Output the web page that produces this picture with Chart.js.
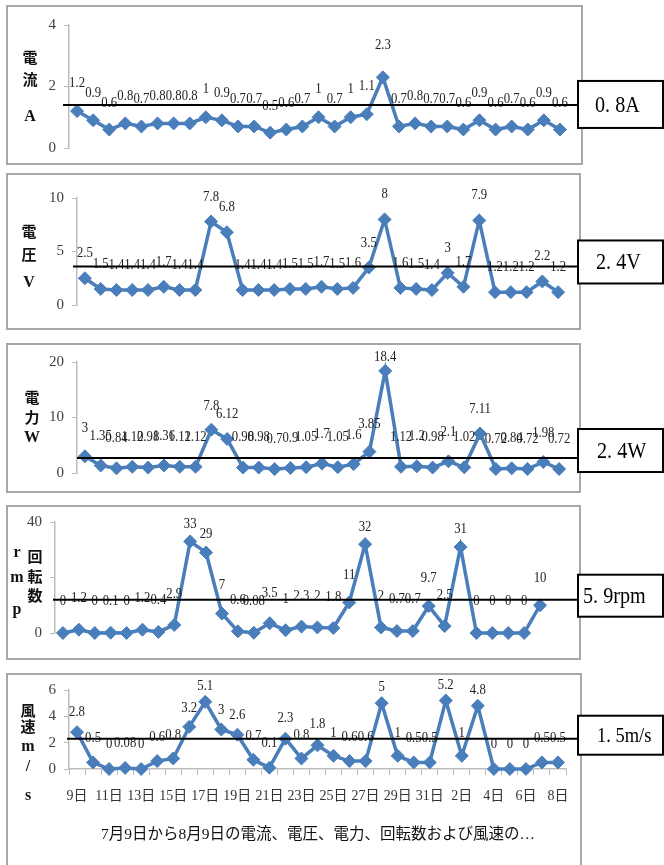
<!DOCTYPE html>
<html>
<head>
<meta charset="utf-8">
<script src="https://cdn.jsdelivr.net/npm/chart.js@4.4.1/dist/chart.umd.min.js"></script>
<style>
    body { margin: 0; background: #fff; width: 664px; height: 865px; overflow: hidden; position: relative; }
    .panel { position: absolute; border: 2px solid #a8a8a8; box-sizing: border-box; background: #fff; }
    canvas { position: absolute; left: 0; }
</style>
</head>
<body>
<script>
// 7/9 - 8/8, one point per day
const days = ['9日', '10日', '11日', '12日', '13日', '14日', '15日', '16日', '17日', '18日', '19日', '20日',
    '21日', '22日', '23日', '24日', '25日', '26日', '27日', '28日', '29日', '30日', '31日',
    '1日', '2日', '3日', '4日', '5日', '6日', '7日', '8日'];

const currentA = [1.2, 0.9, 0.6, 0.8, 0.7, 0.8, 0.8, 0.8, 1, 0.9, 0.7, 0.7, 0.5, 0.6, 0.7, 1,
    0.7, 1, 1.1, 2.3, 0.7, 0.8, 0.7, 0.7, 0.6, 0.9, 0.6, 0.7, 0.6, 0.9, 0.6];
const voltageV = [2.5, 1.5, 1.4, 1.4, 1.4, 1.7, 1.4, 1.4, 7.8, 6.8, 1.4, 1.4, 1.4, 1.5, 1.5, 1.7,
    1.5, 1.6, 3.5, 8, 1.6, 1.5, 1.4, 3, 1.7, 7.9, 1.2, 1.2, 1.2, 2.2, 1.2];
const powerW = [3, 1.35, 0.84, 1.12, 0.98, 1.36, 1.12, 1.12, 7.8, 6.12, 0.98, 0.98, 0.7, 0.9, 1.05, 1.7,
    1.05, 1.6, 3.85, 18.4, 1.12, 1.2, 0.98, 2.1, 1.02, 7.11, 0.72, 0.84, 0.72, 1.98, 0.72];
const rpm = [0, 1.2, 0, 0.1, 0, 1.2, 0.4, 2.9, 33, 29, 7, 0.6, 0.08, 3.5, 1, 2.3,
    2, 1.8, 11, 32, 2, 0.7, 0.7, 9.7, 2.5, 31, 0, 0, 0, 0, 10];
const windMs = [2.8, 0.5, 0, 0.08, 0, 0.6, 0.8, 3.2, 5.1, 3, 2.6, 0.7, 0.1, 2.3, 0.8, 1.8,
    1, 0.6, 0.6, 5, 1, 0.5, 0.5, 5.2, 1, 4.8, 0, 0, 0, 0.5, 0.5];

// hand-drawn average lines (level on each axis) and their boxed captions
const markLevels = [1.4, 3.6, 2.7, 12, 2.3];
const markTexts = ['0. 8A', '2. 4V', '2. 4W', '5. 9rpm', '1. 5m/s'];
const caption = '7月9日から8月9日の電流、電圧、電力、回転数および風速の…';

const SERIF = '"Liberation Serif", "Noto Sans CJK JP", serif';
const CJK = '"Noto Sans CJK JP", sans-serif';
const BLUE = '#4a7ebb';
const AXIS = '#bcbcbc';

// layout per panel: frame, plot area (page px), label offsets, axis title glyphs
const panels = [
    { values: currentA, max: 4, step: 2, frame: [6, 5, 577, 160], area: [69, 568, 25, 152],
      lab: [21, -12], markFrom: 63, box: [24, 47], textX: 595, fs: 24,
      title: [['電', 30, 57], ['流', 30, 79], ['A', 30, 117]] },
    { values: voltageV, max: 10, step: 5, frame: [6, 173, 575, 157], area: [77, 566, 198, 305],
      lab: [21, 0], markFrom: 73, box: [26, 43], textX: 596, fs: 24,
      title: [['電', 29, 231], ['圧', 29, 254], ['V', 29, 283]] },
    { values: powerW, max: 20, step: 10, frame: [6, 343, 575, 150], area: [77, 567, 362, 473],
      lab: [27, 19], markFrom: 77, box: [29, 43], textX: 597, fs: 24,
      title: [['電', 32, 397], ['力', 32, 417], ['W', 32, 438]] },
    { values: rpm, max: 40, step: 20, hide: [20], frame: [6, 505, 575, 155], area: [55, 548, 520, 633],
      lab: [28, 18], markFrom: 53, box: [25, 42], textX: 583, fs: 24,
      title: [['r', 17, 553], ['回', 35, 556], ['m', 17, 578], ['転', 35, 576], ['数', 35, 595], ['p', 17, 610]] },
    { values: windMs, max: 6, step: 2, frame: [6, 673, 576, 200], area: [69, 566, 689, 769],
      lab: [21, 11], markFrom: 67, box: [23, 39], textX: 597, fs: 22, xAxis: true,
      title: [['風', 28, 710], ['速', 28, 726], ['m', 28, 747], ['/', 28, 767], ['s', 28, 796]] }
];

function squeezeText(ctx, text, x, y, sx, align) {
    ctx.save();
    ctx.translate(x, y);
    ctx.scale(sx, 1);
    ctx.textAlign = align || 'center';
    ctx.fillText(text, 0, 0);
    ctx.restore();
}

function makeDecor(p, idx) {
    return {
        id: 'decor' + idx,
        afterDatasetsDraw(chart) {
            const ctx = chart.ctx;
            const ys = chart.scales.y;
            const top = p.frame[1];
            const meta = chart.getDatasetMeta(0);

            // value labels above each point
            ctx.save();
            ctx.fillStyle = '#222';
            ctx.font = '15px ' + SERIF;
            ctx.textBaseline = 'alphabetic';
            meta.data.forEach((pt, i) => {
                const v = p.values[i];
                const off = p.lab[0] - p.lab[1] * (v / p.max);
                squeezeText(ctx, String(v), pt.x, pt.y - off, 0.85);
            });
            ctx.restore();

            // average line and box
            const y = ys.getPixelForValue(markLevels[idx]);
            const bx = 578, bw = 85;
            const by = y - p.box[0], bh = p.box[1];
            ctx.save();
            ctx.strokeStyle = '#000';
            ctx.lineWidth = 2;
            ctx.beginPath();
            ctx.moveTo(p.markFrom, y);
            ctx.lineTo(bx, y);
            ctx.stroke();
            ctx.fillStyle = '#fff';
            ctx.fillRect(bx, by, bw, bh);
            ctx.strokeRect(bx, by, bw, bh);
            ctx.fillStyle = '#000';
            ctx.font = p.fs + 'px ' + SERIF;
            ctx.textBaseline = 'middle';
            squeezeText(ctx, markTexts[idx], p.textX, by + bh / 2 + 1, 0.84, 'left');
            ctx.restore();

            // stacked axis title
            ctx.save();
            ctx.fillStyle = '#111';
            ctx.textBaseline = 'middle';
            ctx.textAlign = 'center';
            p.title.forEach(([ch, x, yy]) => {
                ctx.font = /[a-z/]/i.test(ch) ? 'bold 16px ' + SERIF : 'bold 15px ' + CJK;
                ctx.fillText(ch, x, yy - top);
            });
            ctx.restore();

            if (p.xAxis) {
                ctx.save();
                ctx.fillStyle = '#111';
                ctx.font = '15.5px ' + SERIF;
                ctx.textAlign = 'center';
                ctx.textBaseline = 'middle';
                ctx.fillText(caption, 318, 835 - top);
                ctx.restore();
            }
        }
    };
}

panels.forEach((p, idx) => {
    const frame = document.createElement('div');
    frame.className = 'panel';
    frame.style.left = p.frame[0] + 'px';
    frame.style.top = p.frame[1] + 'px';
    frame.style.width = p.frame[2] + 'px';
    frame.style.height = p.frame[3] + 'px';
    document.body.appendChild(frame);

    const top = p.frame[1];
    const height = p.xAxis ? 865 - top : p.frame[3];
    const canvas = document.createElement('canvas');
    canvas.width = 664;
    canvas.height = height;
    canvas.style.top = top + 'px';
    document.body.appendChild(canvas);

    const xAxisH = 40;
    const padBottom = p.xAxis ? top + height - p.area[3] - xAxisH : top + height - p.area[3];

    new Chart(canvas, {
        type: 'line',
        data: {
            labels: days,
            datasets: [{
                data: p.values,
                borderColor: BLUE,
                backgroundColor: BLUE,
                borderWidth: 3.5,
                tension: 0,
                pointStyle: 'rectRot',
                pointRadius: 6.5,
                pointHoverRadius: 6.5,
                pointBorderWidth: 1,
                clip: false
            }]
        },
        options: {
            responsive: false,
            animation: false,
            events: [],
            layout: {
                autoPadding: false,
                padding: { left: 0, right: 664 - p.area[1], top: p.area[2] - top, bottom: padBottom }
            },
            plugins: { legend: { display: false }, tooltip: { enabled: false } },
            scales: {
                x: {
                    display: !!p.xAxis,
                    offset: true,
                    grid: { offset: true, drawOnChartArea: false, drawTicks: true, tickLength: 6, color: AXIS },
                    border: { display: true, color: AXIS, width: 1.5 },
                    ticks: {
                        autoSkip: false, maxRotation: 0, padding: 13, color: '#333',
                        font: { family: SERIF, size: 14 },
                        callback: (v, i) => (i % 2 === 0 ? days[i] : '')
                    },
                    afterFit: s => { if (p.xAxis) s.height = xAxisH; }
                },
                y: {
                    min: 0,
                    max: p.max,
                    grid: { drawOnChartArea: false, drawTicks: true, tickLength: 5, color: AXIS },
                    border: { display: true, color: AXIS, width: 1.5 },
                    ticks: {
                        stepSize: p.step, padding: 8, color: '#404040',
                        font: { family: SERIF, size: 15 },
                        callback: v => (p.hide && p.hide.includes(v) ? '' : v)
                    },
                    afterFit: s => { s.width = p.area[0]; }
                }
            }
        },
        plugins: [makeDecor(p, idx)]
    });
});
</script>
</body>
</html>
